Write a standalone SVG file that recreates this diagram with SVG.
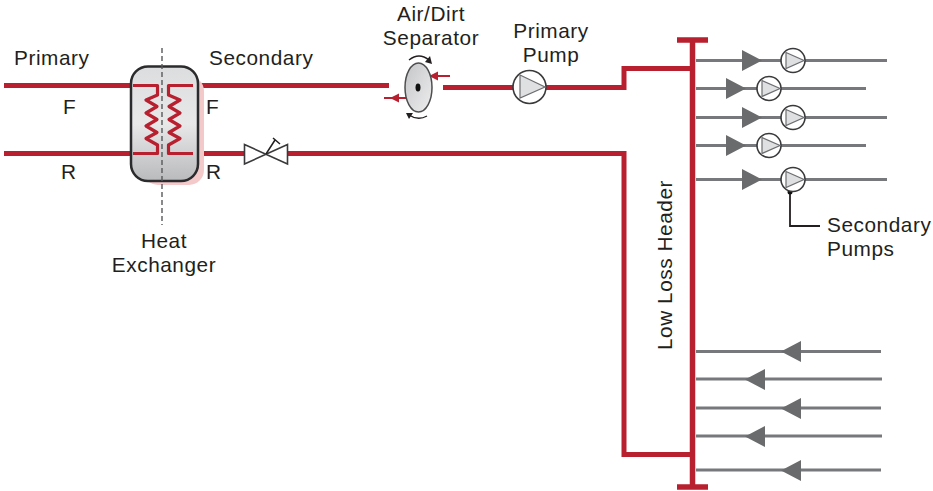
<svg xmlns="http://www.w3.org/2000/svg" width="933" height="491" viewBox="0 0 933 491">
<style>
text{font-family:"Liberation Sans",Arial,sans-serif;font-size:20.800px;letter-spacing:.55px;fill:#231f20}
.m{text-anchor:middle}
.r{fill:none;stroke:#b8202f;stroke-width:5}
.rt{fill:none;stroke:#b8202f;stroke-width:3.200}
.g{fill:none;stroke:#77787b;stroke-width:3}
.tri{fill:#6a6b6d}
.p{fill:#fff;stroke:#3a3a3c;stroke-width:1.600}
.pt{fill:#dfe0e1;stroke:#6d6e71;stroke-width:1.200}
.k{fill:none;stroke:#231f20;stroke-width:1.800}
</style>
<defs>
<linearGradient id="hx" x1="0" y1="0" x2="0" y2="1"><stop offset="0" stop-color="#dcddde"/><stop offset="0.500" stop-color="#e8e8e9"/><stop offset="1" stop-color="#b9babc"/></linearGradient>
<linearGradient id="sep" x1="0" y1="0" x2="1" y2="1"><stop offset="0" stop-color="#c4c5c7"/><stop offset="1" stop-color="#eeeeef"/></linearGradient>
<g id="pump"><circle r="12" class="p"/><path d="M-7-8 11 0-7 8Z" class="pt"/></g>
</defs>
<g id="connectors">
<path class="r" d="M4 85.500H132M197 85.500H389M443 87.500H516M546 87.500H624V68.500H692"/>
<path class="r" d="M4 153.500H132M197 153.500H246M287 153.500H624V454.500H692"/>
<path class="r" d="M692.500 40V487M677 40H708M677 487H708" style="stroke-width:5.500"/>
<g class="g">
<path d="M696 60.500H887M696 88.500H866M696 117.500H887M696 145.500H866M696 179.500H887"/>
<path d="M696 351.500H881M696 379H882M696 408H881M696 436H882M696 470H881"/>
</g>
<g class="tri">
<path d="M742 50 762 60.500 742 71ZM726 78 746 88.500 726 99ZM742 107 762 117.500 742 128ZM726 135 746 145.500 726 156ZM742 169 762 179.500 742 190Z"/>
<path d="M801 341 781 351.500 801 362ZM765 369 745 379.500 765 390ZM801 398 781 408.500 801 419ZM765 426 745 436.500 765 447ZM801 460 781 470.500 801 481Z"/>
</g>
<path class="rt" d="M407 98H384M450 76H430" style="stroke-width:2"/>
<path d="M399 93.500 390 98 399 102.500ZM438 71.500 429 76 438 80.500Z" fill="#b8202f"/>
<path class="k" d="M790 191V226H820"/>
<circle cx="790" cy="192" r="2.500" fill="#111"/>
</g>
<g id="heat-exchanger">
<rect x="143" y="76" width="61" height="109" rx="15" fill="#f3c9ca"/>
<rect x="131" y="66.500" width="67" height="114.500" rx="17" fill="url(#hx)" stroke="#2b2b2d" stroke-width="2.500"/>
<g class="rt" stroke-linejoin="round">
<path d="M133 85.500H157.500V95L146 100 157 106.500 146 113 157 119.500 146 126 157 132.500 146 138.500 157.500 145V153.500H133"/>
<path d="M193 85.500H168.500V95L180 100 169 106.500 180 113 169 119.500 180 126 169 132.500 180 138.500 168.500 145V153.500H193"/>
</g>
<path d="M162 48V225" fill="none" stroke="#58595b" stroke-width="1.400" stroke-dasharray="5 3"/>
</g>
<g id="valve"><path d="M244.500 144.500V164L287.500 144.500V164Z" fill="#fff" stroke="#3a3a3c" stroke-width="1.600"/><path d="M266 154 275 140M273 138 280 144" class="k" style="stroke-width:1.500"/></g>
<g id="separator">
<ellipse cx="418.500" cy="87.500" rx="13.500" ry="24.500" fill="url(#sep)" stroke="#4d4d4f" stroke-width="1.500"/>
<ellipse cx="418" cy="87.500" rx="2.500" ry="4" fill="#111"/>
<path class="k" d="M409 60Q419 52 429 60M427 116Q418 121 409 115" style="stroke-width:1.400"/>
<path d="M432 64 425 62 430 56ZM406 113 413 113 409 119Z" fill="#231f20"/>
</g>
<g id="primary-pump"><circle cx="529.500" cy="87" r="16.500" class="p"/><path d="M520 75 545 87 520 98Z" class="pt"/></g>
<g id="secondary-pump-1"><use href="#pump" x="793" y="60.500"/></g>
<g id="secondary-pump-2"><use href="#pump" x="769" y="88.500"/></g>
<g id="secondary-pump-3"><use href="#pump" x="793" y="117.500"/></g>
<g id="secondary-pump-4"><use href="#pump" x="769" y="145.500"/></g>
<g id="secondary-pump-5"><use href="#pump" x="793" y="179.500"/></g>
<g id="labels">
<text x="14" y="65">Primary</text>
<text x="209" y="65">Secondary</text>
<text x="63" y="114">F</text>
<text x="206" y="114">F</text>
<text x="61" y="179">R</text>
<text x="206" y="179">R</text>
<text class="m" x="164" y="248">Heat</text>
<text class="m" x="164" y="272">Exchanger</text>
<text class="m" x="431" y="21">Air/Dirt</text>
<text class="m" x="431" y="45">Separator</text>
<text class="m" x="551" y="38">Primary</text>
<text class="m" x="551" y="62">Pump</text>
<text x="827" y="232">Secondary</text>
<text x="827" y="256">Pumps</text>
<text class="m" transform="translate(672 265) rotate(-90)">Low Loss Header</text>
</g>
</svg>
